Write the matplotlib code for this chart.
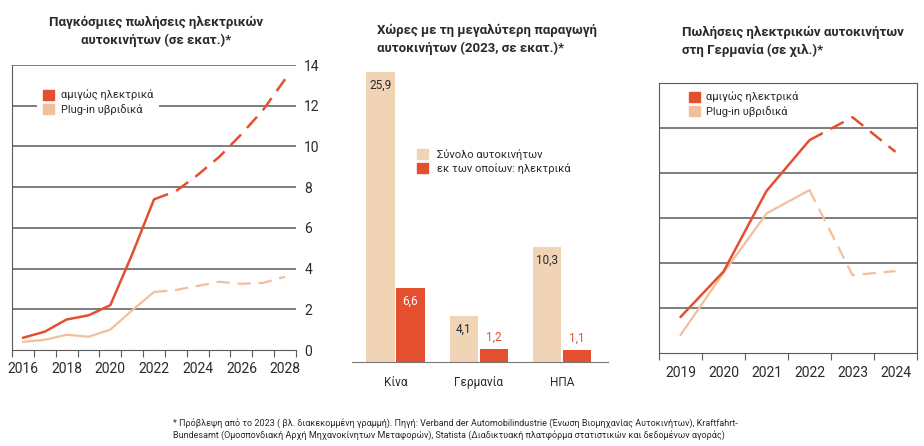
import matplotlib
matplotlib.use("Agg")
import matplotlib.pyplot as plt
from matplotlib.patches import Patch
import numpy as np

plt.rcParams['font.family'] = ['Roboto', 'DejaVu Sans']

# ---------------- data ----------------
world_years = [2016, 2017, 2018, 2019, 2020, 2021, 2022, 2023, 2024, 2025, 2026, 2027, 2028]
world_bev = [0.6, 0.9, 1.5, 1.7, 2.2, 4.7, 7.4, 7.8, 8.6, 9.5, 10.6, 11.8, 13.3]
world_phev = [0.4, 0.5, 0.75, 0.65, 1.0, 1.95, 2.85, 2.95, 3.15, 3.35, 3.25, 3.3, 3.6]
world_forecast_from = 2022

countries = ['Κίνα', 'Γερμανία', 'ΗΠΑ']
prod_total = [25.9, 4.1, 10.3]
prod_electric = [6.6, 1.2, 1.1]
total_labels = ['25,9', '4,1', '10,3']
electric_labels = ['6,6', '1,2', '1,1']

de_years = [2019, 2020, 2021, 2022, 2023, 2024]
de_bev = [80, 181, 360, 473, 524, 447]
de_phev = [40, 178, 310, 362, 173, 182]
de_forecast_from = 2022

legend_bev = 'αμιγώς ηλεκτρικά'
legend_phev = 'Plug-in υβριδικά'
legend_total = 'Σύνολο αυτοκινήτων'
legend_elec = 'εκ των οποίων: ηλεκτρικά'

title_left = 'Παγκόσμιες πωλήσεις ηλεκτρικών\nαυτοκινήτων (σε εκατ.)*'
title_mid = 'Χώρες με τη μεγαλύτερη παραγωγή\nαυτοκινήτων (2023, σε εκατ.)*'
title_right = 'Πωλήσεις ηλεκτρικών αυτοκινήτων\nστη Γερμανία (σε χιλ.)*'
footnote = ('* Πρόβλεψη από το 2023 ( βλ. διακεκομμένη γραμμή). Πηγή: Verband der Automobilindustrie '
            '(Ένωση Βιομηχανίας Αυτοκινήτων), Kraftfahrt-\nBundesamt (Ομοσπονδιακή Αρχή Μηχανοκίνητων '
            'Μεταφορών), Statista (Διαδικτυακή πλατφόρμα στατιστικών και δεδομένων αγοράς)')

RED = '#E4502F'
PEACH = '#F2BF9C'
BEIGE = '#F1D3B6'
GRID = '#5a5a5a'
TXT = '#2a2a2a'

W, H = 924, 446
fig = plt.figure(figsize=(W / 100, H / 100), dpi=100)


def ax_px(x0, y_top, x1, y_bot):
    return fig.add_axes([x0 / W, 1 - y_bot / H, (x1 - x0) / W, (y_bot - y_top) / H])


def split_plot(ax, xs, ys, cut, color, lw):
    xs = np.array(xs); ys = np.array(ys)
    m1 = xs <= cut
    m2 = xs >= cut
    ax.plot(xs[m1], ys[m1], color=color, lw=lw, solid_capstyle='round')
    ax.plot(xs[m2], ys[m2], color=color, lw=lw, dashes=(6, 3.5))


# ---------------- left chart ----------------
axL = ax_px(12, 65, 296, 350)
axL.set_xlim(2015.5, 2028.5)
axL.set_ylim(0, 14)
for y in range(2, 15, 2):
    axL.axhline(y, color=GRID, lw=1.1, zorder=0)
split_plot(axL, world_years, world_phev, world_forecast_from, PEACH, 1.6)
split_plot(axL, world_years, world_bev, world_forecast_from, RED, 1.8)
axL.spines['top'].set_visible(False)
axL.spines['right'].set_visible(False)
axL.spines['left'].set_color(GRID)
axL.spines['bottom'].set_color(GRID)
axL.yaxis.tick_right()
axL.set_yticks(range(0, 15, 2))
axL.tick_params(axis='y', length=0, pad=6, labelsize=10, labelcolor=TXT)
axL.set_xticks(np.arange(2015.5, 2029, 1))
axL.set_xticklabels([])
axL.tick_params(axis='x', length=5, color=GRID, direction='out')
for yr in range(2016, 2029, 2):
    axL.text(yr, -0.6, str(yr), ha='center', va='top', fontsize=10, color=TXT)
leg = axL.legend(handles=[Patch(color=RED), Patch(color=PEACH)], labels=[legend_bev, legend_phev],
                 loc='upper left', bbox_to_anchor=(0.07, 0.95), frameon=True, fontsize=8,
                 handlelength=1.0, handleheight=1.0, handletextpad=0.6, labelspacing=0.25,
                 borderpad=0.5, labelcolor=TXT)
leg.get_frame().set_facecolor('white')
leg.get_frame().set_edgecolor('none')
leg.get_frame().set_alpha(1)
fig.text(156 / W, 1 - 31 / H, title_left, ha='center', va='center', fontsize=9.5,
         fontweight='bold', color=TXT, linespacing=1.45)

# ---------------- middle chart ----------------
axM = ax_px(352, 65, 608, 362)
x = np.arange(len(countries))
bw = 0.34
off = 0.18
axM.set_xlim(-0.52, 2.55)
axM.set_ylim(0, 26.5)
axM.bar(x - off, prod_total, bw, color=BEIGE)
axM.bar(x + off, prod_electric, bw, color=RED)
for xi, v, lab in zip(x, prod_total, total_labels):
    axM.text(xi - off, v - 0.6, lab, ha='center', va='top', fontsize=8.5, color=TXT)
for xi, v, lab in zip(x, prod_electric, electric_labels):
    if v > 3:
        axM.text(xi + off, v - 0.6, lab, ha='center', va='top', fontsize=8.5, color='white')
    else:
        axM.text(xi + off, v + 0.4, lab, ha='center', va='bottom', fontsize=8.5, color=RED)
for s in ['top', 'right', 'left']:
    axM.spines[s].set_visible(False)
axM.spines['bottom'].set_color('#777777')
axM.set_yticks([])
axM.set_xticks(x)
axM.set_xticklabels(countries, fontsize=8.5, color=TXT)
axM.tick_params(axis='x', length=0, pad=10)
axM.legend(handles=[Patch(color=BEIGE), Patch(color=RED)], labels=[legend_total, legend_elec],
           loc='upper left', bbox_to_anchor=(0.225, 0.745), frameon=False, fontsize=8,
           handlelength=1.0, handleheight=1.0, handletextpad=0.8, labelspacing=0.3,
           borderpad=0.2, labelcolor=TXT)
fig.text(377 / W, 1 - 39 / H, title_mid, ha='left', va='center', fontsize=9.5,
         fontweight='bold', color=TXT, linespacing=1.45)

# ---------------- right chart ----------------
axR = ax_px(659, 83, 917, 353)
axR.set_xlim(2018.5, 2024.5)
axR.set_ylim(0, 600)
for y in range(100, 600, 100):
    axR.axhline(y, color=GRID, lw=1.1, zorder=0)
split_plot(axR, de_years, de_phev, de_forecast_from, PEACH, 1.6)
split_plot(axR, de_years, de_bev, de_forecast_from, RED, 1.8)
for s in axR.spines.values():
    s.set_color(GRID)
axR.set_yticks([])
axR.set_xticks(np.arange(2018.5, 2025, 1))
axR.set_xticklabels([])
axR.tick_params(axis='x', length=5, color=GRID, direction='out')
for yr in de_years:
    axR.text(yr, -28, str(yr), ha='center', va='top', fontsize=10, color=TXT)
axR.legend(handles=[Patch(color=RED), Patch(color=PEACH)], labels=[legend_bev, legend_phev],
           loc='upper left', bbox_to_anchor=(0.08, 1.0), frameon=False, fontsize=8,
           handlelength=1.0, handleheight=1.0, handletextpad=0.6, labelspacing=0.25,
           borderpad=0.3, labelcolor=TXT)
fig.text(682 / W, 1 - 41 / H, title_right, ha='left', va='center', fontsize=9.5,
         fontweight='bold', color=TXT, linespacing=1.45)

# ---------------- footnote ----------------
fig.text(173 / W, 1 - 429 / H, footnote, ha='left', va='center', fontsize=6.5,
         color=TXT, linespacing=1.3)

fig.savefig('out.png', dpi=100, facecolor='white')
